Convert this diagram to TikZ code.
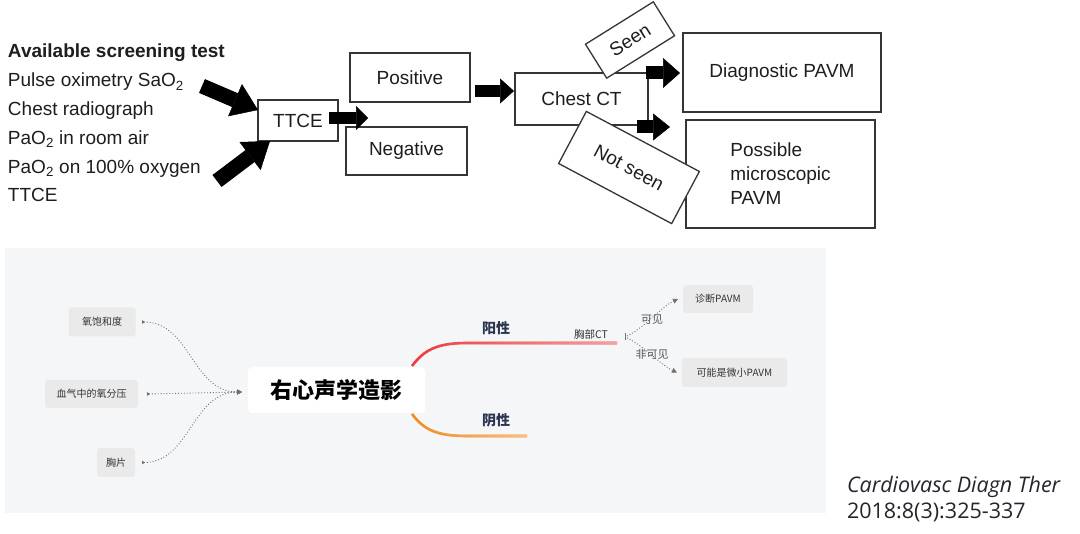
\documentclass[tikz,border=0pt]{standalone}
\usepackage{fontspec}
\setmainfont{Liberation Sans}
\newfontfamily\cjk{Noto Sans CJK SC}
\newfontfamily\citefont{Open Sans}
\usetikzlibrary{arrows.meta,fadings,calc}
\definecolor{txt}{HTML}{1E1E1E}
\definecolor{edge}{HTML}{353535}
\definecolor{panel}{HTML}{F5F6F8}
\definecolor{chip}{HTML}{EAEAEA}
\definecolor{chiptxt}{HTML}{333333}
\definecolor{navy}{HTML}{2B3550}
\definecolor{redb}{HTML}{EE3A3A}
\definecolor{redl}{HTML}{F5A3A3}
\definecolor{orb}{HTML}{F28A22}
\definecolor{orl}{HTML}{F8C283}
\definecolor{dotc}{HTML}{707070}
\definecolor{lbltxt}{HTML}{555555}
\definecolor{citec}{HTML}{25252E}
\begin{document}
\begin{tikzpicture}[x=1pt,y=-1pt,
  every node/.style={inner sep=0pt,outer sep=0pt},
  en/.style={font=\fontsize{19}{24}\selectfont,text=txt},
  box/.style={en,draw=edge,line width=1.3pt,fill=white},
  blk/.style n args={3}{draw=black,line width=#1,-{Triangle[length=#2,width=#3,line width=0.5pt]}},
  chipn/.style={fill=chip,rounded corners=3pt,font=\cjk\fontsize{10}{12}\selectfont,text=chiptxt},
  dotl/.style={draw=dotc,line width=0.9pt,dotted},
  lbl/.style={font=\cjk\fontsize{11}{13}\selectfont,text=lbltxt},
  topic/.style={font=\cjk\bfseries\fontsize{14}{16}\selectfont,text=navy},
]
\useasboundingbox (0,0) rectangle (1080,534);
\fill[white] (0,0) rectangle (1080,534);

% ---------- top flow chart ----------
\node[en,anchor=base west,font=\fontsize{19}{24}\selectfont\bfseries] (l0) at (8,58) {Available screening test};
\node[en,anchor=base west] (l1) at (8,86.8) {Pulse oximetry SaO\textsubscript{2}};
\node[en,anchor=base west] (l2) at (8,115.6) {Chest radiograph};
\node[en,anchor=base west] (l3) at (8,144.4) {PaO\textsubscript{2} in room air};
\node[en,anchor=base west] (l4) at (8,173.2) {PaO\textsubscript{2} on 100\% oxygen};
\node[en,anchor=base west] (l5) at (8,202) {TTCE};

\node[box,minimum width=80pt,minimum height=41pt] (ttce) at (298,120.5) {TTCE};
\node[box,minimum width=120pt,minimum height=49pt] (pos) at (410,77.5) {Positive};
\node[box,minimum width=121pt,minimum height=48pt] (neg) at (406.5,151) {Negative};
\node[box,minimum width=133pt,minimum height=52pt] (ct) at (581.5,99) {Chest CT};
\node[box,minimum width=198pt,minimum height=79pt] (diag) at (782,72.5) {Diagnostic PAVM};
\node[box,minimum width=189pt,minimum height=108pt,align=left] (poss) at (780.5,174) {Possible\\microscopic\\PAVM};

\coordinate (t1) at (202,86);
\coordinate (t2) at (217,181);
\coordinate (pn) at (368,118);
\draw[blk={15pt}{25pt}{35pt}] (t1) -- ($(ttce.north west)+(0,10)$);
\draw[blk={15pt}{25pt}{35pt}] (t2) -- ($(ttce.south west)+(12,0)$);
\draw[blk={12pt}{12pt}{24pt}] ($(ttce.east)+(-9,-2.5)$) -- (pn);
\draw[blk={12pt}{14pt}{25pt}] ($(pos.east)+(5,13.5)$) -- ($(ct.west)+(-1,-8)$);
\draw[blk={13pt}{17pt}{30pt}] ($(ct.north east)+(-2,0)$) -- ($(ct.north east)+(32,0)$);
\draw[blk={13pt}{17pt}{27pt}] ($(ct.south east)+(-11,2)$) -- ($(ct.south east)+(22,2)$);

\node[box,minimum width=80pt,minimum height=40pt,rotate=32] (seen) at (630,40) {Seen};
\node[box,minimum width=128pt,minimum height=59pt,rotate=-28] (nseen) at (629,167.5) {Not seen};

% ---------- bottom mind map ----------
\fill[panel] (5,248) rectangle (826,513);

\node[fill=white,rounded corners=4pt,minimum width=177pt,minimum height=46pt,
      font=\cjk\bfseries\fontsize{22}{26}\selectfont,text=black] (rx) at (336.5,390) {右心声学造影};

\node[chipn,minimum width=67pt,minimum height=29pt] (o1) at (102,322) {氧饱和度};
\node[chipn,minimum width=93pt,minimum height=28pt] (o2) at (91.5,394) {血气中的氧分压};
\node[chipn,minimum width=38pt,minimum height=29pt] (o3) at (116,462.5) {胸片};

\coordinate (hub) at ($(rx.west)+(-6,2)$);
\draw[dotl,{Triangle[reversed,length=3pt,width=3.5pt]}-{Triangle[length=5pt,width=5pt]}]
  ($(o1.east)+(6.5,0)$) .. controls ($(o1.east)+(55,0)$) and ($(hub)+(-50,0)$) .. (hub);
\draw[dotl,{Triangle[reversed,length=3pt,width=3.5pt]}-{Triangle[length=5pt,width=5pt]}]
  ($(o2.east)+(9,0)$) -- (hub);
\draw[dotl,{Triangle[reversed,length=3pt,width=3.5pt]}-{Triangle[length=5pt,width=5pt]}]
  ($(o3.east)+(7,0)$) .. controls ($(o3.east)+(55,0)$) and ($(hub)+(-50,0)$) .. (hub);

% branches
\coordinate (ps) at (467,343);
\coordinate (pend) at (617,343);
\coordinate (ns) at (467,436);
\coordinate (nend) at (527,436);
\draw[line width=2.6pt,draw=redb]
  ($(rx.north east)+(-13,-1)$) .. controls ($(rx.north east)+(-1,-17)$) and ($(ps)+(-30,0)$) .. (ps) -- (pend);
\draw[line width=2.6pt,draw=redl,path fading=west]
  ($(rx.north east)+(-13,-1)$) .. controls ($(rx.north east)+(-1,-17)$) and ($(ps)+(-30,0)$) .. (ps) -- (pend);
\draw[line width=2.6pt,draw=orb]
  ($(rx.south east)+(-13,1)$) .. controls ($(rx.south east)+(-1,17)$) and ($(ns)+(-30,0)$) .. (ns) -- (nend);
\draw[line width=2.6pt,draw=orl,path fading=west]
  ($(rx.south east)+(-13,1)$) .. controls ($(rx.south east)+(-1,17)$) and ($(ns)+(-30,0)$) .. (ns) -- (nend);

\node[topic] (yang) at (496,328) {阳性};
\node[topic] (yin) at (496,420) {阴性};
\node[font=\cjk\fontsize{10.5}{12}\selectfont,text=chiptxt] (ct2) at (591,334) {胸部CT};

\node[chipn,minimum width=70pt,minimum height=28pt] (d1) at (718,299) {诊断PAVM};
\node[chipn,minimum width=105pt,minimum height=29pt] (d2) at (734.5,372.5) {可能是微小PAVM};

\coordinate (hub2) at (625,337);
\draw[dotc,line width=0.9pt] ($(hub2)+(0,-3.5)$) -- ($(hub2)+(0,3.5)$);
\draw[dotl,-{Triangle[length=5pt,width=5pt]}]
  ($(hub2)+(2,-1)$) .. controls ($(hub2)+(18,-8)$) and ($(d1.west)+(-22,8)$) .. ($(d1.west)+(-5,0)$);
\draw[dotl,-{Triangle[length=5pt,width=5pt]}]
  ($(hub2)+(2,1)$) .. controls ($(hub2)+(18,8)$) and ($(d2.west)+(-22,-8)$) .. ($(d2.west)+(-5,0)$);
\node[lbl] (kj) at (652,320) {可见};
\node[lbl] (fkj) at (652,354) {非可见};

% ---------- citation ----------
\node[anchor=base west,font=\citefont\itshape\fontsize{21.5}{26}\selectfont,text=citec] (cit1) at (847,493) {Cardiovasc Diagn Ther};
\node[anchor=base west,font=\citefont\fontsize{21.5}{26}\selectfont,text=citec] (cit2) at (847,519) {2018:8(3):325-337};
\end{tikzpicture}
\end{document}
